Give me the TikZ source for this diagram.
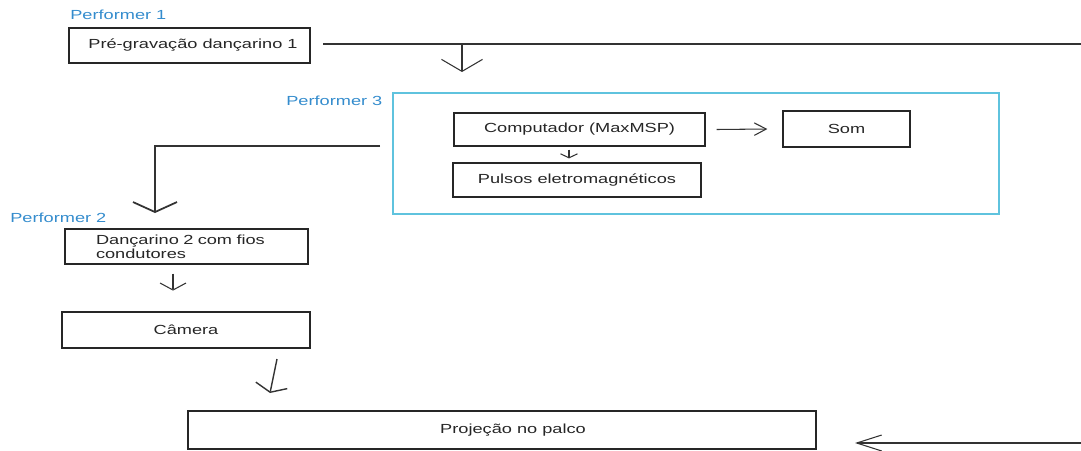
\documentclass[tikz,border=0pt]{standalone}
\usepackage{fontspec}
\setmainfont{Liberation Sans}[FakeStretch=1.38]
\usetikzlibrary{arrows.meta}
\definecolor{perfblue}{RGB}{52,140,205}
\definecolor{perfcyan}{RGB}{95,195,222}
\newcommand{\tightlines}{\lineskiplimit=-10pt\relax}
\begin{document}
\begin{tikzpicture}
[x=0.02cm,y=-0.02cm,
  boxdecorate/.style={shape=rectangle,draw=black!85,line width=0.7pt,text=black!85,
    font=\fontsize{7.5}{6.3}\selectfont,inner sep=0pt},%
  perfdecorate/.style={anchor=west,text=perfblue,
    font=\fontsize{7.5}{9}\selectfont,inner sep=0pt},%
  linedecorate/.style={draw=black!80,line width=0.6pt},%
  tipdecorate/.style 2 args={-{Straight Barb[length=#1,width=#2]}}]
\useasboundingbox (0,0) rectangle (1081,450);
%% nodes or vertices
\node (perf1) at (70,15) [perfdecorate] {Performer 1};
\node (perf3) at (286,101) [perfdecorate] {Performer 3};
\node (perf2) at (10,218) [perfdecorate] {Performer 2};
\node (pre) at (189.5,45.5) [boxdecorate,minimum width=4.82cm,minimum height=0.7cm]
  {\hspace*{0.14cm}Pré-gravação dançarino 1};
\node (perf3box) at (696,153.5) [draw=perfcyan,line width=0.9pt,
  minimum width=12.12cm,minimum height=2.42cm] {};
\node (comp) at (579.5,129.5) [boxdecorate,minimum width=5.02cm,minimum height=0.66cm]
  {Computador (MaxMSP)};
\node (som) at (846.5,129) [boxdecorate,minimum width=2.54cm,minimum height=0.72cm] {Som};
\node (pulsos) at (577,180) [boxdecorate,minimum width=4.96cm,minimum height=0.68cm]
  {Pulsos eletromagnéticos};
\node (danc) at (186.5,246.5) [boxdecorate,minimum height=0.7cm,inner xsep=0.62cm,
  text width=3.62cm,align=left]
  {\tightlines Dançarino 2 com fios\\condutores};
\node (cam) at (186,330) [boxdecorate,minimum width=4.96cm,minimum height=0.72cm] {Câmera};
\node (proj) at (502,430) [boxdecorate,minimum width=12.56cm,minimum height=0.76cm]
  {\hspace*{0.44cm}Projeção no palco};
%% free ends of the connectors
\coordinate (topstart) at (323,44);
\coordinate (topend) at (1081,44);
\coordinate (drop) at (462,44);
\coordinate (dropend) at (462,72);
\coordinate (turnstart) at (380,146);
\coordinate (turncorner) at (155,146);
\coordinate (turnend) at (155,213);
\coordinate (camdrop) at (277,359);
\coordinate (camdropend) at (270,393);
\coordinate (rightstart) at (1081,443);
\coordinate (rightend) at (855,443);
%% edges or lines
\draw[linedecorate] (topstart) -- (topend);
\draw[linedecorate,tipdecorate={0.24cm}{0.82cm}] (drop) -- (dropend);
\draw[linedecorate,tipdecorate={0.24cm}{0.25cm}] ([xshift=0.22cm]comp.east) -- ([xshift=-0.3cm]som.west);
\draw[linedecorate,tipdecorate={0.08cm}{0.34cm}] ([xshift=-0.21cm,yshift=-0.06cm]comp.south) -- ([xshift=-0.21cm,yshift=0.08cm]pulsos.north -| comp.south);
\draw[linedecorate,line width=1pt,tipdecorate={0.2cm}{0.88cm}] (turnstart) -- (turncorner) -- (turnend);
\draw[linedecorate,tipdecorate={0.14cm}{0.52cm}] ([xshift=-0.27cm,yshift=-0.18cm]danc.south) -- ([xshift=-0.27cm,yshift=-0.52cm]danc.south);
\draw[linedecorate,line width=0.8pt,tipdecorate={0.14cm}{0.64cm}] (camdrop) -- (camdropend);
\draw[linedecorate,tipdecorate={0.5cm}{0.32cm}] (rightstart) -- (rightend);
\end{tikzpicture}
\end{document}
